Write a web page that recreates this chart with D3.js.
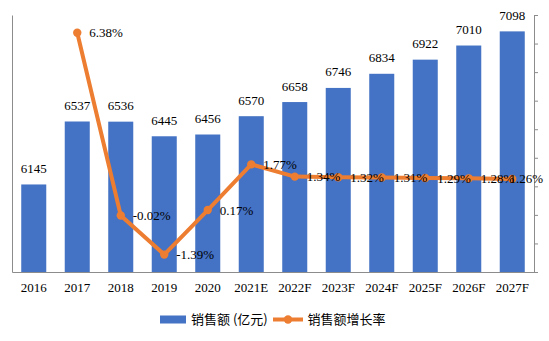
<!DOCTYPE html>
<html><head><meta charset="utf-8">
<script src="https://cdn.jsdelivr.net/npm/d3@7"></script>
<style>body{margin:0;background:#fff}svg{display:block}</style>
</head><body>
<svg id="c" width="549" height="341"></svg>
<script>
const categories = ["2016","2017","2018","2019","2020","2021E","2022F","2023F","2024F","2025F","2026F","2027F"];
const sales = [6145,6537,6536,6445,6456,6570,6658,6746,6834,6922,7010,7098];
const growth = [null,6.38,-0.02,-1.39,0.17,1.77,1.34,1.32,1.31,1.29,1.28,1.26];
const rightTicks = [-2,-1,0,1,2,3,4,5,6,7];
const legendLabels = ["销售额 (亿元)","销售额增长率"];

const W=549,H=341, L=12, R=534, T=15, B=272;
const blue="#4472C4", orange="#ED7D31", axisCol="#8c8c8c";
const serif="'Liberation Serif','Times New Roman',serif";
const svg=d3.select("#c");

const x=d3.scaleBand().domain(categories).range([L,R]).paddingInner(0.425).paddingOuter(0.2125);
const y=d3.scaleLinear().domain([5600,7200]).range([B,T]);
const y2=d3.scaleLinear().domain([-2,7]).range([B,T]);

// bars
svg.append("g").selectAll("rect").data(sales).join("rect")
  .attr("x",(d,i)=>x(categories[i])).attr("width",x.bandwidth())
  .attr("y",d=>y(d)).attr("height",d=>B-y(d)).attr("fill",blue);

// axes
const gl=svg.append("g").attr("transform",`translate(${L},0)`).call(d3.axisLeft(y).tickValues([]).tickSizeOuter(0));
gl.select(".domain").attr("stroke",axisCol);
const gr=svg.append("g").attr("transform",`translate(${R},0)`).call(d3.axisRight(y2).tickValues(rightTicks).tickSize(4).tickSizeOuter(0).tickFormat(""));
gr.selectAll("line,.domain").attr("stroke",axisCol);
const gb=svg.append("g").attr("transform",`translate(0,${B})`).call(d3.axisBottom(x).tickSize(0).tickSizeOuter(0).tickPadding(11));
gb.select(".domain").attr("stroke",axisCol);
gb.selectAll("text").attr("font-family",serif).attr("font-size",13).attr("fill","#000");

// bar labels
svg.append("g").selectAll("text").data(sales).join("text")
  .attr("x",(d,i)=>x(categories[i])+x.bandwidth()/2).attr("y",d=>y(d)-11.5)
  .attr("text-anchor","middle").attr("font-family",serif).attr("font-size",13).attr("fill","#000")
  .text(d=>d);

// line
const pts=growth.map((g,i)=>({c:categories[i],g})).filter(d=>d.g!==null);
const cx=d=>x(d.c)+x.bandwidth()/2;
svg.append("path").datum(pts)
  .attr("d",d3.line().x(cx).y(d=>y2(d.g)))
  .attr("fill","none").attr("stroke",orange).attr("stroke-width",4).attr("stroke-linejoin","round");
svg.append("g").selectAll("circle").data(pts).join("circle")
  .attr("cx",cx).attr("cy",d=>y2(d.g)).attr("r",4.2).attr("fill",orange);

// line labels
svg.append("g").selectAll("text").data(pts).join("text")
  .attr("x",d=>cx(d)+12).attr("y",d=>y2(d.g)+4.5)
  .attr("font-family",serif).attr("font-size",13).attr("fill","#000")
  .text(d=>d.g.toFixed(2)+"%")
  .each(function(){
    const w=this.getComputedTextLength(), x0=+this.getAttribute("x");
    if(x0+w>W-6) this.setAttribute("x",W-6-w);
  });

// legend
const lg=svg.append("g").attr("font-family","'Noto Sans CJK SC',sans-serif").attr("font-size",13).attr("fill","#000");
lg.append("rect").attr("x",160).attr("y",315.5).attr("width",26).attr("height",8).attr("fill",blue);
lg.append("text").attr("x",191).attr("y",324).text(legendLabels[0]);
lg.append("line").attr("x1",273).attr("x2",303).attr("y1",319.5).attr("y2",319.5).attr("stroke",orange).attr("stroke-width",4);
lg.append("circle").attr("cx",288).attr("cy",319.5).attr("r",4.2).attr("fill",orange);
lg.append("text").attr("x",307.5).attr("y",324).text(legendLabels[1]);
</script>
</body></html>
